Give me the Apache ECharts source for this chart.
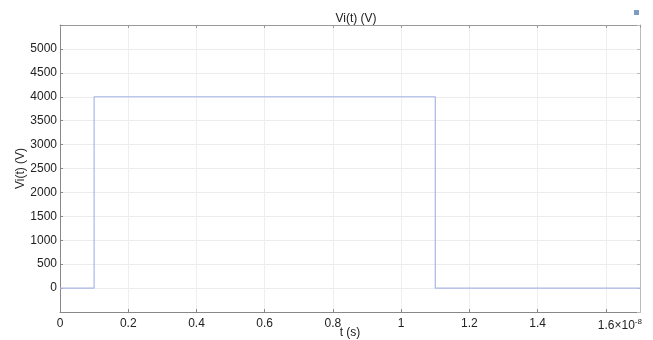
<!DOCTYPE html>
<html>
<head>
<meta charset="utf-8">
<script src="https://cdn.jsdelivr.net/npm/echarts@6/dist/echarts.min.js"></script>
<style>
html,body{margin:0;padding:0;background:#fff;}
#main{width:653px;height:340px;}
</style>
</head>
<body>
<div id="main"></div>
<script>
var chart = echarts.init(document.getElementById('main'));

// time in units of 1e-8 s
var t = [0, 0.1, 1.1, 1.7];
var vi = [0, 4000, 0, 0];
var xTicks = [0, 0.2, 0.4, 0.6, 0.8, 1, 1.2, 1.4, 1.6];
var yTicks = [0, 500, 1000, 1500, 2000, 2500, 3000, 3500, 4000, 4500, 5000];

var pts = t.map(function (v, i) { return [v, vi[i]]; });
var font = 'Liberation Sans';

function xLab(v) {
    var r = Math.round(v * 10) / 10;
    if (xTicks.indexOf(r) < 0 || Math.abs(v - r) > 1e-6) return '';
    if (r === 1.6) return '{a|1.6×10}{s|-8}';
    return String(r);
}
function yLab(v) {
    return yTicks.indexOf(v) >= 0 ? String(v) : '';
}

var option = {
    animation: false,
    title: {
        text: 'Vi(t) (V)',
        left: 351, top: 8,
        textAlign: 'center',
        textStyle: { fontFamily: font, fontSize: 12, fontWeight: 'normal', color: '#222' }
    },
    graphic: [{
        type: 'rect', left: 634, top: 10,
        shape: { width: 5, height: 5 },
        style: { fill: '#7d9cc4' }
    }],
    grid: { left: 60, right: 13, top: 25, bottom: 28, outerBoundsMode: 'none', containLabel: false },
    xAxis: [{
        type: 'value', min: 0, max: 1.7, interval: 0.2,
        name: 't (s)', nameLocation: 'middle', nameGap: 15, nameMoveOverlap: false,
        nameTextStyle: { fontFamily: font, fontSize: 12, color: '#222' },
        axisLine: { show: true, onZero: false, lineStyle: { color: '#888', width: 1 } },
        axisTick: { show: true, inside: true, length: 3, lineStyle: { color: '#888' } },
        axisLabel: { fontFamily: font, fontSize: 12, color: '#222', margin: 6,
            showMaxLabel: false, formatter: xLab,
            rich: {
                a: { fontFamily: font, fontSize: 12, color: '#222', padding: [0, 0, 0, 28] },
                s: { fontFamily: font, fontSize: 8, color: '#222', verticalAlign: 'top', padding: [0, 0, 7, 0] }
            } },
        splitLine: { show: true, lineStyle: { color: '#eeeeee', width: 1 } }
    }, {
        type: 'value', position: 'top', min: 0, max: 1.7, interval: 0.2,
        axisLine: { show: true, onZero: false, lineStyle: { color: '#999' } },
        axisTick: { show: true, inside: true, length: 3, lineStyle: { color: '#999' } },
        axisLabel: { show: false }, splitLine: { show: false }
    }],
    yAxis: [{
        type: 'value', min: -500, max: 5500, interval: 500,
        name: 'Vi(t) (V)', nameLocation: 'middle', nameGap: 33, nameMoveOverlap: false,
        nameTextStyle: { fontFamily: font, fontSize: 12, color: '#222' },
        axisLine: { show: true, onZero: false, lineStyle: { color: '#888', width: 1 } },
        axisTick: { show: true, inside: true, length: 3, lineStyle: { color: '#888' } },
        axisLabel: { fontFamily: font, fontSize: 12, color: '#222', margin: 3, formatter: yLab },
        splitLine: { show: true, lineStyle: { color: '#ececec', width: 1 } }
    }, {
        type: 'value', position: 'right', min: -500, max: 5500, interval: 500,
        axisLine: { show: true, onZero: false, lineStyle: { color: '#bbb' } },
        axisTick: { show: true, inside: true, length: 3, lineStyle: { color: '#bbb' } },
        axisLabel: { show: false }, splitLine: { show: false }
    }],
    series: [{
        type: 'line',
        step: 'end',
        data: pts,
        symbol: 'none',
        lineStyle: { color: '#a8b6e6', width: 1.2 }
    }]
};

chart.setOption(option);
</script>
</body>
</html>
